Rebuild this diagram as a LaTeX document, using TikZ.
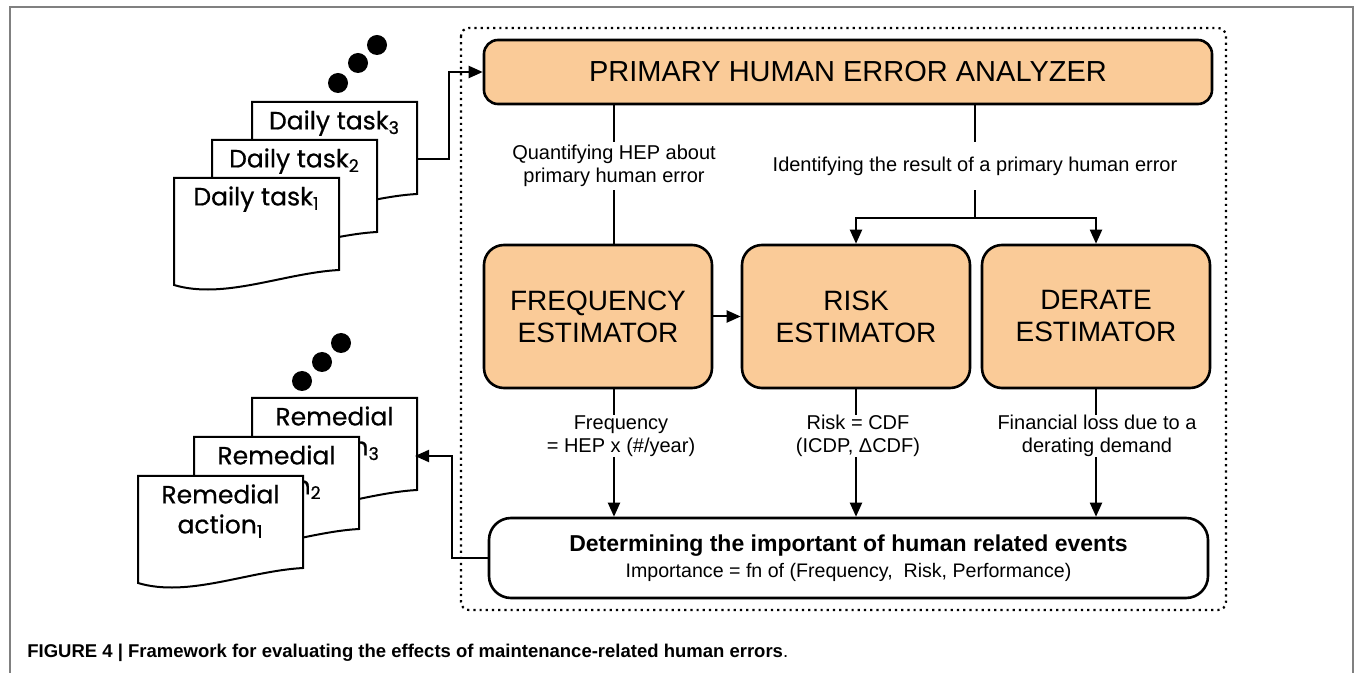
\documentclass[tikz,border=0pt]{standalone}
\usepackage{fontspec}
\setmainfont{Liberation Sans}
\newfontfamily\pagefont{Poppins}[FakeBold=0.6]
\usetikzlibrary{calc,arrows.meta}

\definecolor{boxpeach}{RGB}{250,203,152}
\definecolor{framegray}{RGB}{128,128,128}

\tikzset{
  estbox/.style={draw, line width=1.3pt, fill=boxpeach, align=center,
    font=\fontsize{14}{16}\selectfont},
  flowlbl/.style={align=center, inner sep=0pt, font=\fontsize{10}{11.5}\selectfont},
  pageline/.style={draw, line width=1pt, fill=white},
  pagetext/.style={align=center, inner sep=0pt, anchor=north,
    font=\pagefont\fontsize{12.5}{15}\selectfont},
  flow/.style={line width=1pt},
  flowarr/.style={line width=1pt, -{Triangle[length=7pt,width=6pt]}},
}

% one sheet of a stacked document, top left corner at #1,#2
\newcommand{\taskpage}[4]{%
  \begin{scope}[shift={(#1,#2)}]
    \path[pageline] (0,0) -- (165,0) -- (165,92)
      .. controls (110,95) and (50,122) .. (0,107) -- cycle;
    \node[pagetext] (#3) at (82.5,8) {#4};
  \end{scope}}

\begin{document}
\begin{tikzpicture}[x=0.5pt, y=-0.5pt]
  \useasboundingbox (0,0) rectangle (1355,673);
  \draw[framegray, line width=1pt] (10,673) -- (10,7) -- (1353,7) -- (1353,673);
  \draw[dotted, line width=1.1pt, rounded corners=4pt] (461,28) rectangle (1226,610);

  % analyzer and the three estimators
  \node[estbox, rounded corners=7pt, minimum width=364pt, minimum height=32pt,
    font=\fontsize{14.5}{16}\selectfont] (pha) at (848,72) {PRIMARY HUMAN ERROR ANALYZER};
  \node[estbox, rounded corners=10pt, minimum width=114pt, minimum height=71.5pt]
    (freq) at (598,316.5) {FREQUENCY\\ESTIMATOR};
  \node[estbox, rounded corners=10pt, minimum width=114pt, minimum height=71.5pt]
    (risk) at (856,316.5) {RISK\\ESTIMATOR};
  \node[estbox, rounded corners=10pt, minimum width=114pt, minimum height=71.5pt]
    (derate) at (1096,316.5) {DERATE\\ESTIMATOR};
  \node[draw, line width=1.3pt, rounded corners=11pt, fill=white, align=center,
    minimum width=359.5pt, minimum height=40pt] (imp) at (848.5,558)
    {{\fontsize{11.5}{13}\selectfont\bfseries Determining the important of human related events}\\[1pt]
     {\fontsize{9.8}{11}\selectfont Importance = fn of (Frequency,\ \ Risk, Performance)}};

  \node[flowlbl, minimum height=24pt] (hepq) at (614,166) {Quantifying HEP about\\primary human error};
  \node[flowlbl, minimum height=24pt] (ident) at (975,166) {Identifying the result of a primary human error};
  \node[flowlbl, minimum height=20pt] (freqq) at (621,436) {Frequency\\= HEP x (\#/year)};
  \node[flowlbl, minimum height=20pt] (riskq) at (858,436) {Risk = CDF\\(ICDP, ΔCDF)};
  \node[flowlbl, minimum height=20pt] (lossq) at (1097,436) {Financial loss due to a\\derating demand};

  \coordinate (split) at (975,218);
  \draw[flow] (pha.south -| hepq) -- (hepq.north);
  \draw[flow] (hepq.south) -- (freq.north -| hepq);
  \draw[flow] (pha.south -| ident) -- (ident.north);
  \draw[flow] (ident.south) -- (split);
  \draw[flowarr] (split) -| (risk.north);
  \draw[flowarr] (split) -| (derate.north);
  \draw[flowarr] (freq) -- (risk);

  \draw[flow] (freq.south -| hepq) -- (freqq.north -| hepq);
  \draw[flowarr] (freqq.south -| hepq) -- (imp.north -| hepq);
  \draw[flow] (risk.south) -- (risk.south |- riskq.north);
  \draw[flowarr] (risk.south |- riskq.south) -- (imp.north -| risk);
  \draw[flow] (derate.south) -- (derate.south |- lossq.north);
  \draw[flowarr] (derate.south |- lossq.south) -- (imp.north -| derate);

  % daily task sheets
  \foreach \cx/\cy in {338/83, 358/63, 377/45}
    \fill (\cx,\cy) circle (5pt);
  \taskpage{252}{102}{daily3}{Daily task\textsubscript{3}}
  \taskpage{212}{140}{daily2}{Daily task\textsubscript{2}}
  \taskpage{174}{178}{daily1}{Daily task\textsubscript{1}}

  % remedial action sheets
  \foreach \cx/\cy in {302/381, 322/362, 341/343}
    \fill (\cx,\cy) circle (5pt);
  \taskpage{252}{398}{remedy3}{Remedial\\action\textsubscript{3}}
  \taskpage{194}{437}{remedy2}{Remedial\\action\textsubscript{2}}
  \taskpage{138}{476}{remedy1}{Remedial\\action\textsubscript{1}}

  \coordinate (dailyout) at (416,159);
  \coordinate (dailybend) at (449,159);
  \draw[flowarr] (dailyout) -- (dailybend) |- (pha.west);
  \coordinate (remedyin) at (415,456);
  \coordinate (remedybend) at (452,558);
  \draw[flowarr] (imp.west) -- (remedybend) |- (remedyin);

  \node[anchor=base west, inner sep=0pt, font=\fontsize{9.25}{11}\selectfont] (caption) at (27,657)
    {\textbf{FIGURE 4 | Framework for evaluating the effects of maintenance-related human errors}.};
\end{tikzpicture}
\end{document}
